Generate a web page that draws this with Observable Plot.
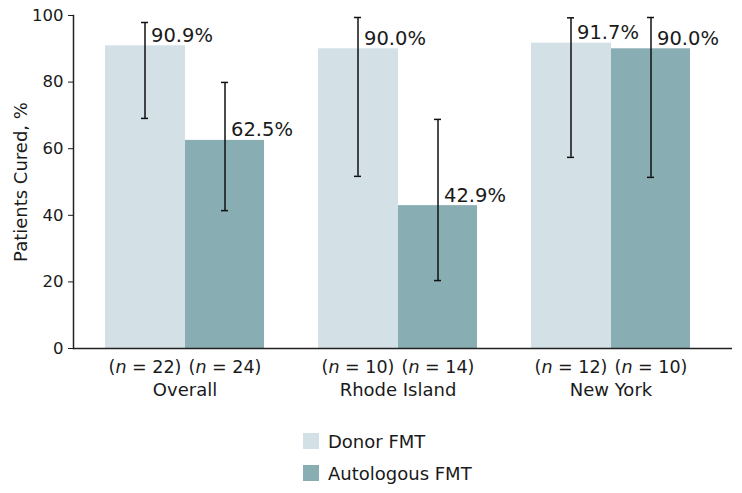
<!DOCTYPE html>
<html><head><meta charset="utf-8">
<script src="https://cdn.jsdelivr.net/npm/d3@7"></script>
<script src="https://cdn.jsdelivr.net/npm/@observablehq/plot@0.6"></script>
<style>
body{margin:0;background:#fff;font-family:"DejaVu Sans",sans-serif;color:#1a1a1a;}
#legend{margin-left:303px;margin-top:15px;}
.item{display:flex;align-items:center;height:32px;font-size:18px;}
.sw{width:16px;height:16px;margin-right:9px;flex:none;}
</style>
</head><body>
<div id="chart"></div>
<div id="legend"></div>
<script>
const groups = ["Overall", "Rhode Island", "New York"];
const series = ["Donor FMT", "Autologous FMT"];
const colors = ["#d3e0e5", "#88adb2"];
const donorValues = [90.9, 90.0, 91.7];
const autoValues = [62.5, 42.9, 90.0];
const donorLow = [69.1, 51.7, 57.4];
const donorHigh = [97.9, 99.4, 99.3];
const autoLow = [41.4, 20.4, 51.4];
const autoHigh = [79.9, 68.8, 99.4];
const donorN = [22, 10, 12];
const autoN = [24, 14, 10];
const yTicks = [0, 20, 40, 60, 80, 100];
const yLabel = "Patients Cured, %";

const donor = groups.map((g, i) => ({group: g, value: donorValues[i], low: donorLow[i], high: donorHigh[i], n: donorN[i]}));
const auto = groups.map((g, i) => ({group: g, value: autoValues[i], low: autoLow[i], high: autoHigh[i], n: autoN[i]}));

const font = "'DejaVu Sans', sans-serif";
const half = 80, capIn = 36;
const ink = "#1a1a1a";

const chart = Plot.plot({
  width: 742,
  height: 410,
  marginLeft: 73,
  marginRight: 19,
  marginTop: 15,
  marginBottom: 62,
  style: {fontFamily: font, color: ink, background: "#fff", overflow: "visible"},
  x: {domain: groups, paddingInner: 0.2523, paddingOuter: 0.1449, axis: null},
  y: {domain: [0, 100], axis: null},
  marks: [
    Plot.barY(donor, {x: "group", y: "value", fill: colors[0], insetRight: half - 1}),
    Plot.barY(auto, {x: "group", y: "value", fill: colors[1], insetLeft: half}),
    Plot.ruleX(donor, {x: "group", y1: "low", y2: "high", dx: -40, stroke: "#111", strokeWidth: 1.5}),
    Plot.ruleX(auto, {x: "group", y1: "low", y2: "high", dx: 40, stroke: "#111", strokeWidth: 1.5}),
    Plot.tickY(donor, {x: "group", y: "low", insetLeft: capIn, insetRight: half + capIn, stroke: "#111", strokeWidth: 1.5}),
    Plot.tickY(donor, {x: "group", y: "high", insetLeft: capIn, insetRight: half + capIn, stroke: "#111", strokeWidth: 1.5}),
    Plot.tickY(auto, {x: "group", y: "low", insetLeft: half + capIn, insetRight: capIn, stroke: "#111", strokeWidth: 1.5}),
    Plot.tickY(auto, {x: "group", y: "high", insetLeft: half + capIn, insetRight: capIn, stroke: "#111", strokeWidth: 1.5}),
    Plot.text(donor, {x: "group", y: "value", text: d => d.value.toFixed(1) + "%", dx: -34, dy: -4, textAnchor: "start", lineAnchor: "bottom", fontSize: 19.5, fill: ink}),
    Plot.text(auto, {x: "group", y: "value", text: d => d.value.toFixed(1) + "%", dx: 46, dy: -4, textAnchor: "start", lineAnchor: "bottom", fontSize: 19.5, fill: ink}),
    Plot.frame({anchor: "left", stroke: "#222", strokeWidth: 1.5}),
    Plot.ruleY([0], {stroke: "#222", strokeWidth: 1.5, insetRight: -9}),
    Plot.axisY({ticks: yTicks, tickSize: 5, tickPadding: 5, fontSize: 16.5, label: null}),
    Plot.text([yLabel], {frameAnchor: "left", text: d => d, rotate: -90, textAnchor: "middle", dx: -52, fontSize: 18, fill: ink}),
    Plot.text(donor, {x: "group", y: 0, text: d => `(n = ${d.n})`, dx: -40, dy: 12, lineAnchor: "top", fontSize: 17.5, fill: ink}),
    Plot.text(auto, {x: "group", y: 0, text: d => `(n = ${d.n})`, dx: 40, dy: 12, lineAnchor: "top", fontSize: 17.5, fill: ink}),
    Plot.text(groups, {x: d => d, y: 0, text: d => d, dy: 35, lineAnchor: "top", fontSize: 18, fill: ink})
  ]
});

// italicise the "n" in the sample-size labels
d3.select(chart).selectAll("text").each(function () {
  const m = /^\(n = (\d+)\)$/.exec(this.textContent);
  if (m && this.childElementCount === 0) {
    const el = d3.select(this);
    el.text(null);
    el.append("tspan").text("(");
    el.append("tspan").attr("font-style", "italic").text("n");
    el.append("tspan").text(` = ${m[1]})`);
  }
});

document.getElementById("chart").appendChild(chart);

const legend = d3.select("#legend");
series.forEach((s, i) => {
  const item = legend.append("div").attr("class", "item");
  item.append("div").attr("class", "sw").style("background", colors[i]);
  item.append("span").text(s);
});
</script>
</body></html>
